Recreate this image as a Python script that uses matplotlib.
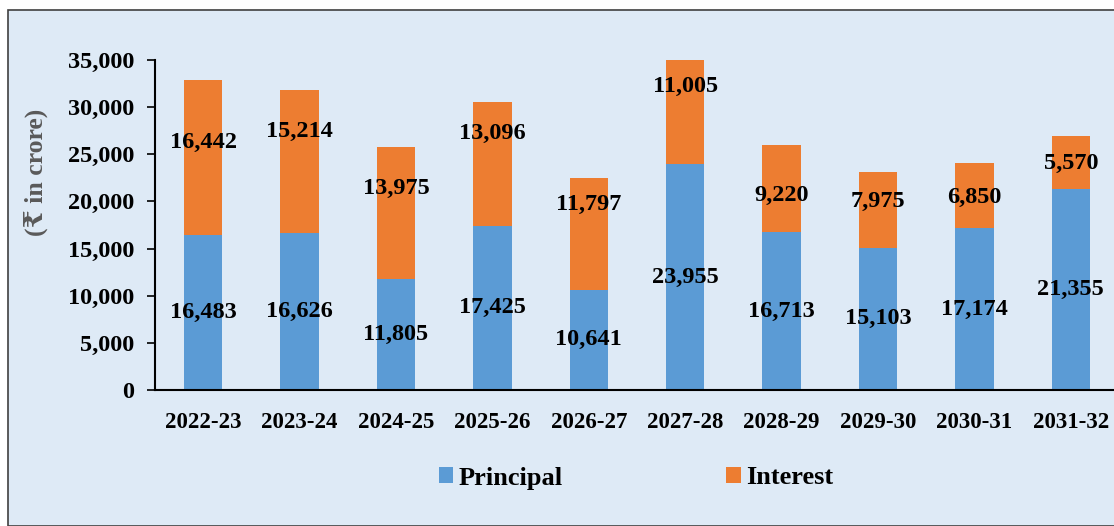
import matplotlib.pyplot as plt
from matplotlib.patches import Rectangle

years = ["2022-23", "2023-24", "2024-25", "2025-26", "2026-27",
         "2027-28", "2028-29", "2029-30", "2030-31", "2031-32"]
principal = [16483, 16626, 11805, 17425, 10641, 23955, 16713, 15103, 17174, 21355]
interest = [16442, 15214, 13975, 13096, 11797, 11005, 9220, 7975, 6850, 5570]
# where the interest labels sit in the picture (data units)
interest_label_y = [26300, 27470, 21420, 27260, 19730, 32240, 20680, 20050, 20470, 24080]

bg = "#DEEAF6"
blue = "#5B9BD5"
orange = "#ED7D31"
serif = ["Liberation Serif", "DejaVu Serif"]
plt.rcParams['font.family'] = serif

W, H = 1114, 526
fig = plt.figure(figsize=(W / 100, H / 100), dpi=100, facecolor="white")
fig.patches.append(Rectangle((8 / W, 0), 1.2, 1 - 10 / H, transform=fig.transFigure,
                             facecolor=bg, edgecolor="#404040", linewidth=1.2, zorder=-1))

ax = fig.add_axes([155 / W, 1 - 390 / H, (1119 - 155) / W, 330 / H])
ax.set_facecolor(bg)
x = list(range(len(years)))
ax.bar(x, principal, width=0.4, color=blue, label="Principal")
ax.bar(x, interest, width=0.4, bottom=principal, color=orange, label="Interest")

for i in x:
    ax.text(i, principal[i] / 2, f"{principal[i]:,}", ha="center", va="center",
            fontsize=17.5, fontweight="bold")
    ax.text(i, interest_label_y[i], f"{interest[i]:,}", ha="center", va="center",
            fontsize=17.5, fontweight="bold")

ax.set_xlim(-0.5, 9.5)
ax.set_ylim(0, 35000)
ax.set_yticks(range(0, 35001, 5000))
ax.set_yticklabels([f"{v:,}" for v in range(0, 35001, 5000)], fontsize=17.5, fontweight="bold")
ax.set_xticks(x)
ax.set_xticklabels(years, fontsize=16.5, fontweight="bold")
ax.tick_params(axis="x", length=0, pad=16)
ax.tick_params(axis="y", length=6, width=1.2, direction="out", pad=9)
for s in ["top", "right"]:
    ax.spines[s].set_visible(False)
ax.spines["left"].set_linewidth(1.5)
ax.spines["bottom"].set_linewidth(1.5)

fig.text(36 / W, 1 - 172 / H, "(₹ in crore)", rotation=90, ha="center", va="center",
         fontsize=18.5, fontweight="bold", color="#595959", family=serif)

fig.legend(loc="center", bbox_to_anchor=(636 / W, 1 - 478 / H), ncol=2, frameon=False,
           prop={"family": serif, "size": 19, "weight": "bold"},
           handlelength=0.55, handleheight=0.55, handletextpad=0.2, columnspacing=6.2)

fig.savefig("out.png", dpi=100, facecolor="white")
